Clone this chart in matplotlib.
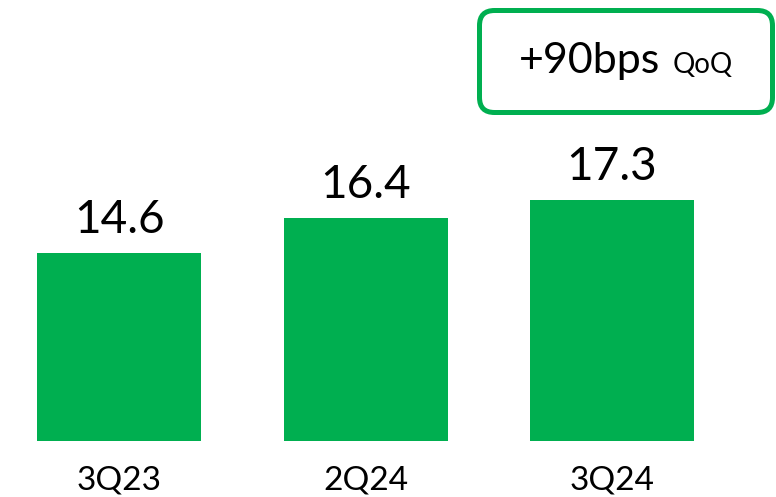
import matplotlib.pyplot as plt
from matplotlib.patches import FancyBboxPatch
from matplotlib.transforms import IdentityTransform

periodi = ['3Q23', '2Q24', '3Q24']
valori = [14.6, 16.4, 17.3]
eticheta_box = '+90bps'
eticheta_mica = 'QoQ'

verde = '#00AF50'
plt.rcParams['font.family'] = ['Lato', 'DejaVu Sans']

fig = plt.figure(figsize=(7.76, 4.97), dpi=100)
ax = fig.add_axes([0, 56 / 497, 1, 441 / 497])

x = range(len(periodi))
bare = ax.bar(x, valori, width=0.665, color=verde)
for b, v in zip(bare, valori):
    ax.annotate(f'{v:.1f}', (b.get_x() + b.get_width() / 2, v), xytext=(0, 14),
                textcoords='offset points', ha='center', va='baseline', fontsize=33)

ax.set_ylim(5, 27.5)
ax.set_xlim(-0.483, 2.665)
ax.set_xticks(list(x))
ax.set_xticklabels(periodi, fontsize=24)
ax.tick_params(axis='x', length=0, pad=18)
ax.set_yticks([])
for s in ax.spines.values():
    s.set_visible(False)

# caseta cu variatia
caseta = FancyBboxPatch((479.5, 497 - 112.5), 293, 102, boxstyle='round,pad=0,rounding_size=15',
                        transform=IdentityTransform(), facecolor='white', edgecolor=verde, linewidth=3.6)
fig.patches.append(caseta)
t1 = fig.text(0, (497 - 73) / 497, eticheta_box, fontsize=31, va='baseline', ha='left')
t2 = fig.text(0, (497 - 73) / 497, eticheta_mica, fontsize=20, va='baseline', ha='left')

# centram cele doua texte in caseta
fig.canvas.draw()
r = fig.canvas.get_renderer()
w1 = t1.get_window_extent(r).width
w2 = t2.get_window_extent(r).width
start = 479.5 + (293 - (w1 + 12 + w2)) / 2
t1.set_x(start / 776)
t2.set_x((start + w1 + 12) / 776)

fig.savefig('out.png', dpi=100)
